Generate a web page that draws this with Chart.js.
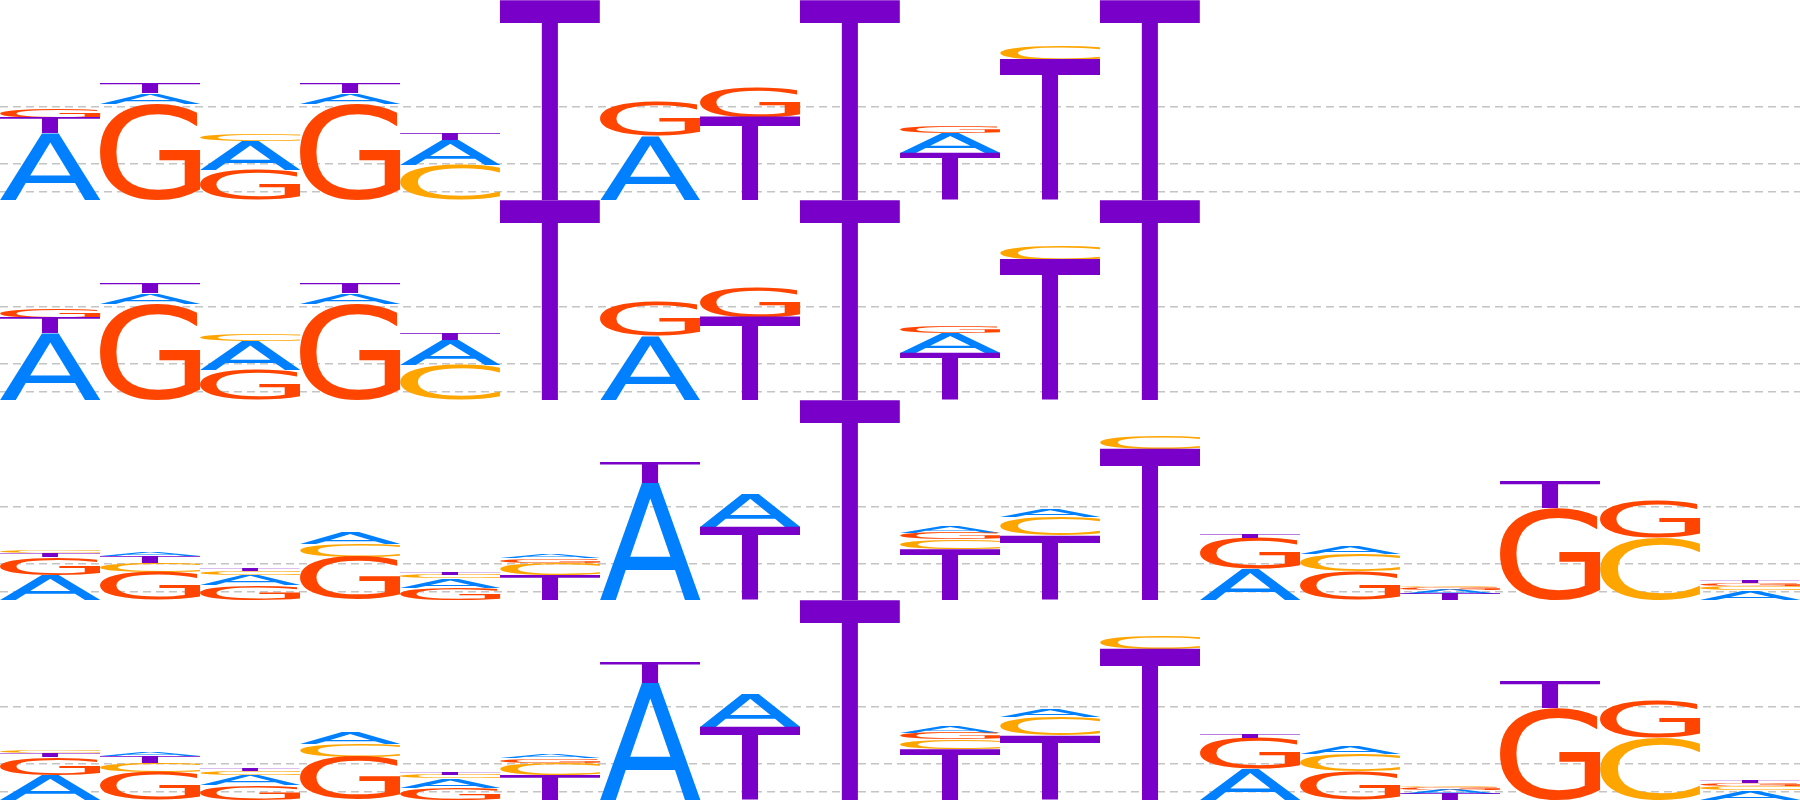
<!DOCTYPE html>
<html>
<head>
<meta charset="utf-8">
<script src="https://cdn.jsdelivr.net/npm/chart.js@4/dist/chart.umd.min.js"></script>
<style>
  html, body { margin: 0; padding: 0; background: #ffffff; }
  #wrap { width: 1800px; height: 800px; position: relative; overflow: hidden; }
  .row { width: 1800px; height: 200px; position: absolute; left: 0; }
</style>
</head>
<body>
<div id="wrap">
  <div class="row" style="top:0px"><canvas id="c0"></canvas></div>
  <div class="row" style="top:200px"><canvas id="c1"></canvas></div>
  <div class="row" style="top:400px"><canvas id="c2"></canvas></div>
  <div class="row" style="top:600px"><canvas id="c3"></canvas></div>
</div>
<script>
// ---- data ----
const POSITIONS = ['1','2','3','4','5','6','7','8','9','10','11','12','13','14','15','16','17','18'];
const LETTERS = ['A', 'C', 'G', 'T'];
const LETTER_COLORS = ['#0080ff', '#ffa500', '#ff4500', '#7800c8'];
const GRID_VALUES = [0.087, 0.363, 0.93];
const Y_MAX = 2;

// motif shown in rows 1 and 2 (bits per letter, per position)
const motif1_A = [0.667, 0.107, 0.29, 0.107, 0.25, 0, 0.64, 0, 0, 0.20, 0, 0];
const motif1_C = [0, 0, 0.06, 0, 0.35, 0, 0, 0, 0, 0, 0.15, 0];
const motif1_G = [0.09, 0.96, 0.30, 0.96, 0, 0, 0.34, 0.29, 0, 0.067, 0, 0];
const motif1_T = [0.15, 0.10, 0, 0.10, 0.057, 2.0, 0, 0.827, 2.0, 0.473, 1.40, 2.0];

// motif shown in rows 3 and 4
const motif2_A = [0.25, 0.037, 0.10, 0.11, 0.093, 0.033, 1.17, 0.323, 0, 0.064, 0.073, 0, 0.317, 0.083, 0.045, 0, 0, 0.095];
const motif2_C = [0.023, 0.09, 0.04, 0.13, 0.033, 0.123, 0, 0, 0, 0.097, 0.19, 0.133, 0, 0.177, 0.015, 0, 0.623, 0.045];
const motif2_G = [0.177, 0.283, 0.15, 0.427, 0.123, 0.043, 0, 0, 0, 0.066, 0, 0, 0.307, 0.283, 0.03, 0.923, 0.377, 0.03];
const motif2_T = [0.04, 0.067, 0.02, 0, 0.023, 0.25, 0.21, 0.727, 2.0, 0.51, 0.643, 1.51, 0.043, 0, 0.057, 0.277, 0, 0.028];

const motif1 = [motif1_A, motif1_C, motif1_G, motif1_T];
const motif2 = [motif2_A, motif2_C, motif2_G, motif2_T];
const ROWS = [motif1, motif1, motif2, motif2];

// ---- build floating stacked segments (largest at bottom) ----
function buildDatasets(motif) {
  const segs = LETTERS.map(() => POSITIONS.map(() => null));
  POSITIONS.forEach((p, i) => {
    const vals = LETTERS.map((L, k) => ({k, v: motif[k][i] || 0})).filter(o => o.v > 0);
    vals.sort((a, b) => b.v - a.v || a.k - b.k);
    let start = 0;
    vals.forEach(o => { segs[o.k][i] = [start, start + o.v]; start += o.v; });
  });
  return LETTERS.map((L, k) => ({
    label: L,
    data: segs[k],
    letter: L,
    letterColor: LETTER_COLORS[k],
    backgroundColor: 'rgba(0,0,0,0)',
    borderWidth: 0,
    grouped: false,
    categoryPercentage: 1.0,
    barPercentage: 1.0
  }));
}

// ---- tight ink bounds of each glyph (measured from pixels) ----
const FONT = '400px "DejaVu Sans"';
const glyphCache = {};
function glyphMetrics(L) {
  if (glyphCache[L]) return glyphCache[L];
  const S = 700, ox = 150, oy = 520;
  const cv = document.createElement('canvas');
  cv.width = S; cv.height = S;
  const c = cv.getContext('2d');
  c.font = FONT; c.textAlign = 'left'; c.textBaseline = 'alphabetic';
  c.fillStyle = '#000';
  c.fillText(L, ox, oy);
  const d = c.getImageData(0, 0, S, S).data;
  let x0 = S, x1 = -1, y0 = S, y1 = -1;
  for (let y = 0; y < S; y++) {
    for (let x = 0; x < S; x++) {
      if (d[(y * S + x) * 4 + 3] > 127) {
        if (x < x0) x0 = x; if (x > x1) x1 = x;
        if (y < y0) y0 = y; if (y > y1) y1 = y;
      }
    }
  }
  glyphCache[L] = {l: ox - x0, w: x1 + 1 - x0, a: oy - y0, h: y1 + 1 - y0};
  return glyphCache[L];
}
const letterPlugin = {
  id: 'logoLetters',
  afterDatasetsDraw(chart) {
    const ctx = chart.ctx;
    chart.data.datasets.forEach((ds, di) => {
      const meta = chart.getDatasetMeta(di);
      meta.data.forEach((bar, i) => {
        const v = ds.data[i];
        if (!v) return;
        const p = bar.getProps(['x', 'y', 'base', 'width'], true);
        const left = p.x - p.width / 2;
        const top = Math.min(p.y, p.base);
        const h = Math.abs(p.base - p.y);
        if (h <= 0) return;
        const g = glyphMetrics(ds.letter);
        ctx.save();
        ctx.translate(left, top);
        ctx.scale(p.width / g.w, h / g.h);
        ctx.font = FONT;
        ctx.textAlign = 'left';
        ctx.textBaseline = 'alphabetic';
        ctx.fillStyle = ds.letterColor;
        ctx.fillText(ds.letter, g.l, g.a);
        ctx.restore();
      });
    });
  }
};

ROWS.forEach((motif, r) => {
  new Chart(document.getElementById('c' + r), {
    type: 'bar',
    data: { labels: POSITIONS, datasets: buildDatasets(motif) },
    options: {
      responsive: true,
      maintainAspectRatio: false,
      animation: false,
      events: [],
      layout: { padding: 0 },
      plugins: { legend: { display: false }, tooltip: { enabled: false } },
      scales: {
        x: { display: false, offset: true },
        y: {
          min: 0, max: Y_MAX,
          stacked: false,
          afterFit: (axis) => { axis.width = 0; },
          afterBuildTicks: (axis) => { axis.ticks = GRID_VALUES.map(v => ({value: v})); },
          ticks: { display: false, padding: 0 },
          border: { display: false, dash: [8, 5] },
          grid: { color: '#c4c4c4', lineWidth: 1.5, drawTicks: false, tickLength: 0 }
        }
      }
    },
    plugins: [letterPlugin]
  });
});
</script>
</body>
</html>
